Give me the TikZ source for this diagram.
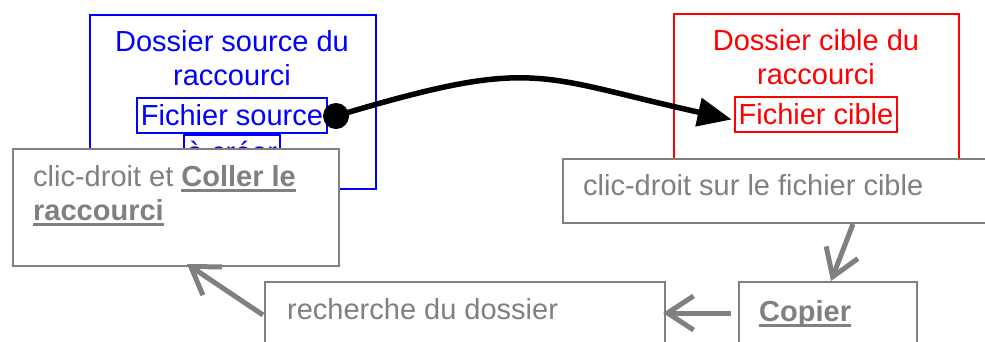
\documentclass[tikz,border=0pt]{standalone}
\usepackage{fontspec}
\setmainfont{Liberation Sans}
\usetikzlibrary{arrows.meta,calc}
\definecolor{grayc}{RGB}{128,128,128}
\newcommand{\myul}[1]{\setbox0\hbox{#1}\rlap{\rule[-5.5pt]{\wd0}{3pt}}\box0}
\begin{document}
\begin{tikzpicture}[x=1pt,y=-1pt,
  font=\fontsize{29}{33.5}\selectfont,
  gbox/.style={draw=grayc, line width=2pt, fill=white, anchor=north west, inner sep=0pt},
  gtext/.style={text=grayc, anchor=base west, align=left, inner sep=0pt},
  inbox/.style={draw, line width=2pt, inner xsep=4pt, inner ysep=6pt, text height=21pt, text depth=2pt},
  garrow/.style={draw=grayc, line width=5pt, -{Straight Barb[length=26pt,width=34pt]}}]
\useasboundingbox (0,0) rectangle (985,341);
\clip (0,0) rectangle (985,341);
\fill[white] (0,0) rectangle (985,341);
% blue source folder
\node[draw=blue, line width=1.5pt, anchor=north west, minimum width=286, minimum height=174, inner sep=0pt] (src) at (89,14) {};
\node[text=blue, align=center, anchor=base, inner sep=0pt] (srct) at (232,85) {Dossier source du\\raccourci};
\node[inbox, draw=blue, text=blue, anchor=base] (fs) at (232,125) {Fichier source};
\node[inbox, draw=blue, text=blue, anchor=north, inner xsep=3pt] (ac) at (232,134) {à créer};
% red target folder
\node[draw=red, line width=1.5pt, anchor=north west, minimum width=285, minimum height=160, inner sep=0pt] (tgt) at (673,13) {};
\node[text=red, align=center, anchor=base, inner sep=0pt] (tgtt) at (816,84) {Dossier cible du\\raccourci};
\node[inbox, draw=red, text=red, anchor=base] (fc) at (816,124) {Fichier cible};
% link
\node[circle, fill=black, minimum size=26pt, inner sep=0pt] (dot) at (336,116) {};
\draw[line width=5.5pt, -{Triangle[length=34pt,width=28pt]}] (dot.center) .. controls (536,56) and (535,76) .. ($(fc.west)+(-2,5)$);
% gray steps
\node[gbox, minimum width=326, minimum height=117] (b1) at (12,148) {};
\node[gtext] (t1) at (33,220) {clic-droit et \myul{\textbf{Coller le}}\\\myul{\textbf{raccourci}}};
\node[gbox, minimum width=450, minimum height=64] (b2) at (562,158) {};
\node[gtext] (t2) at (583,195) {clic-droit sur le fichier cible};
\node[gbox, minimum width=400, minimum height=90] (b3) at (264,281) {};
\node[gtext] (t3) at (287,319) {recherche du dossier};
\node[gbox, minimum width=178, minimum height=90] (b4) at (738,281) {};
\node[gtext] (t4) at (759,321) {\myul{\textbf{Copier}}};
% gray arrows
\draw[garrow] ($(b2.south west)+(291,0)$) -- ($(b4.north west)+(93,0)$);
\draw[garrow] ($(b4.north west)+(-7,32)$) -- ($(b3.north east)+(-3,32)$);
\draw[garrow] ($(b3.north west)+(-1,34)$) -- ($(b1.south west)+(175,-3)$);
\end{tikzpicture}
\end{document}
